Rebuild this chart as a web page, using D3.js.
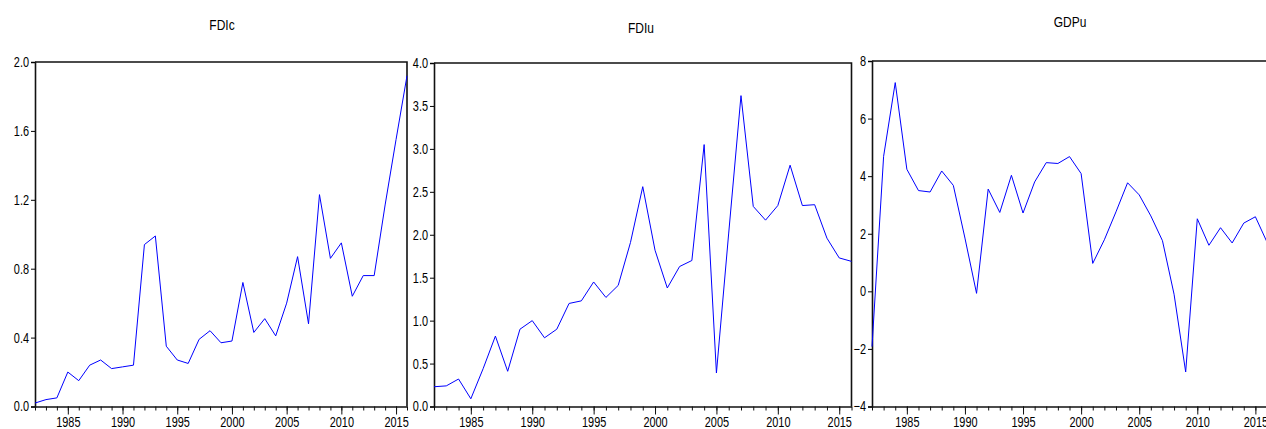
<!DOCTYPE html>
<html>
<head>
<meta charset="utf-8">
<script src="https://cdn.jsdelivr.net/npm/d3@7"></script>
<style>
  body { margin: 0; background: #fff; }
  text { font-family: "Liberation Sans", Arial, sans-serif; fill: #000; }
</style>
</head>
<body>
<script>
// Data
let years = d3.range(1982, 2017)

let fdic = [0.02, 0.04, 0.05, 0.20, 0.15, 0.24, 0.27, 0.22, 0.23, 0.24,
            0.94, 0.99, 0.35, 0.27, 0.25, 0.39, 0.44, 0.37, 0.38, 0.72,
            0.43, 0.51, 0.41, 0.60, 0.87, 0.48, 1.23, 0.86, 0.95, 0.64,
            0.76, 0.76, 1.17, 1.55, 1.92]

let fdiu = [0.23, 0.24, 0.32, 0.09, 0.44, 0.82, 0.41, 0.90, 1.00, 0.80,
            0.90, 1.20, 1.23, 1.45, 1.27, 1.41, 1.91, 2.56, 1.82, 1.38,
            1.63, 1.70, 3.05, 0.39, 2.02, 3.62, 2.33, 2.17, 2.34, 2.81,
            2.34, 2.35, 1.96, 1.73, 1.69]

let gdpu = [-1.92, 4.69, 7.25, 4.24, 3.50, 3.45, 4.18, 3.68, 1.85, -0.07,
            3.55, 2.74, 4.03, 2.72, 3.80, 4.47, 4.44, 4.68, 4.09, 0.97,
            1.79, 2.76, 3.77, 3.35, 2.62, 1.76, -0.10, -2.80, 2.52, 1.60,
            2.21, 1.68, 2.37, 2.59, 1.71]

let titles = ['FDIc', 'FDIu', 'GDPu']
let yTicksFdic = [0, 0.4, 0.8, 1.2, 1.6, 2.0]
let yTicksFdiu = [0, 0.5, 1.0, 1.5, 2.0, 2.5, 3.0, 3.5, 4.0]
let yTicksGdpu = [-4, -2, 0, 2, 4, 6, 8]
let xTicks = [1985, 1990, 1995, 2000, 2005, 2010, 2015]

let width = 1266, height = 429

let panels = [
  { title: titles[0], values: fdic, ticks: yTicksFdic, dom: [0, 2], fmt: d3.format('.1f'),
    left: 35, right: 407, top: 62, bottom: 406.5, titleX: 222, titleY: 30 },
  { title: titles[1], values: fdiu, ticks: yTicksFdiu, dom: [0, 4], fmt: d3.format('.1f'),
    left: 434, right: 851.5, top: 63, bottom: 406.5, titleX: 641, titleY: 33 },
  { title: titles[2], values: gdpu, ticks: yTicksGdpu, dom: [-4, 8], fmt: d3.format('d'),
    left: 872, right: 1267, top: 61, bottom: 406.5, titleX: 1070, titleY: 27 }
]

// squeeze glyphs to mimic a narrow font
function narrow(sel, k) {
  sel.each(function () {
    let w = this.getComputedTextLength()
    d3.select(this).attr('textLength', w * k).attr('lengthAdjust', 'spacingAndGlyphs')
  })
}

let svg = d3.select('body').append('svg').attr('width', width).attr('height', height)

panels.forEach(p => {
  let g = svg.append('g')

  let xScale = d3.scaleLinear().domain([1982, 2016]).range([p.left, p.right])
  let yScale = d3.scaleLinear().domain(p.dom).range([p.bottom, p.top])

  // title
  g.append('text').attr('x', p.titleX).attr('y', p.titleY)
    .attr('text-anchor', 'middle').style('font-size', '15px').text(p.title)
    .call(narrow, 0.8)

  // frame (top + right)
  g.append('path')
    .attr('d', `M${p.left},${p.top}H${p.right}V${p.bottom}`)
    .attr('fill', 'none').attr('stroke', '#111').attr('stroke-width', 1.6)

  // y axis
  let yAxis = g.append('g').attr('transform', `translate(${p.left},0)`)
    .call(d3.axisLeft(yScale).tickValues(p.ticks).tickFormat(p.fmt).tickSize(4).tickPadding(2))
  yAxis.select('.domain').attr('stroke', '#111').attr('stroke-width', 1.6)
  yAxis.selectAll('text').style('font-size', '14px').style('font-family', null).attr('fill', '#111')
    .call(narrow, 0.78)

  // x axis: minor yearly ticks
  let xMinor = g.append('g').attr('transform', `translate(0,${p.bottom})`)
    .call(d3.axisBottom(xScale).tickValues(years).tickFormat('').tickSize(4))
  xMinor.select('.domain').remove()
  xMinor.selectAll('line').attr('stroke', '#111')

  let xAxis = g.append('g').attr('transform', `translate(0,${p.bottom})`)
    .call(d3.axisBottom(xScale).tickValues(xTicks).tickFormat(d3.format('d')).tickSize(8).tickPadding(3).tickSizeOuter(0))
  xAxis.select('.domain').attr('stroke', '#111').attr('stroke-width', 1.6)
  xAxis.selectAll('line').attr('stroke', '#111')
  xAxis.selectAll('text').style('font-size', '14px').style('font-family', null).attr('fill', '#111')
    .call(narrow, 0.78)

  // series line
  let line = d3.line().x((d, i) => xScale(years[i])).y(d => yScale(d))
  g.append('path').datum(p.values)
    .attr('d', line).attr('fill', 'none').attr('stroke', '#0000ff').attr('stroke-width', 1)
})
</script>
</body>
</html>
